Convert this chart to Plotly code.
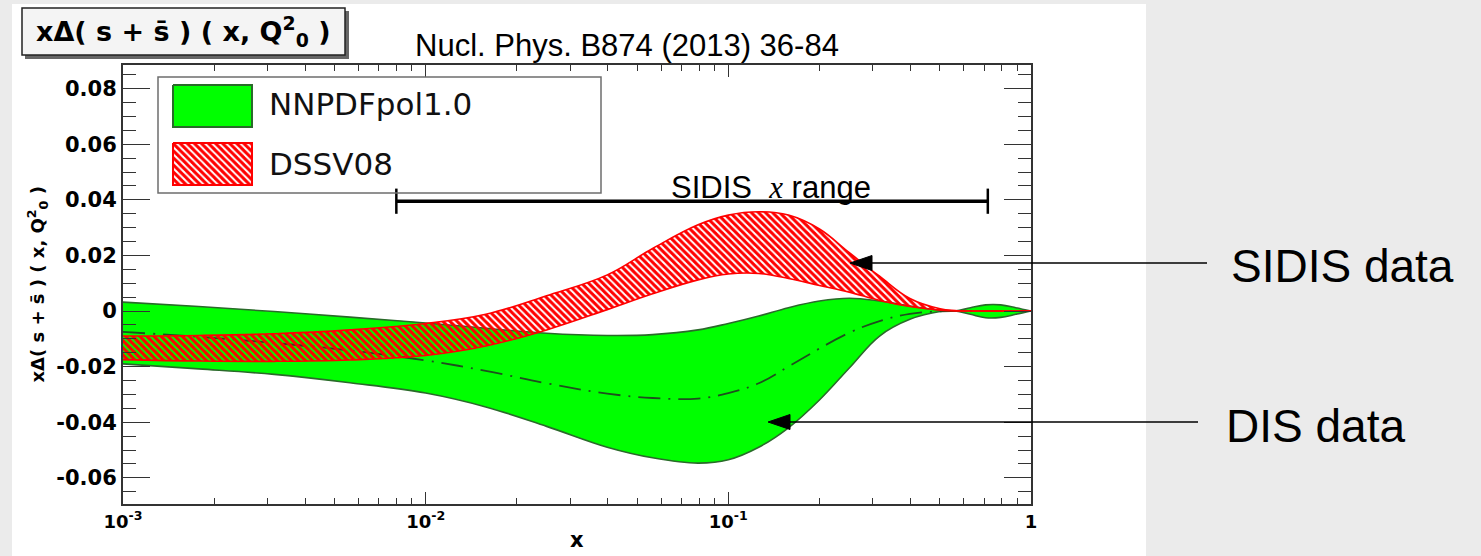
import plotly.graph_objects as go

# ---------------- data ----------------
x_vals = [0.001, 0.00178, 0.00316, 0.00562, 0.01, 0.0158, 0.0251, 0.0398, 0.0562, 0.0794,
          0.1, 0.126, 0.158, 0.2, 0.251, 0.316, 0.398, 0.501, 0.562, 0.631, 0.708, 0.794, 0.891, 1.0]

nnpdf_upper = [0.0032, 0.0016, -0.0002, -0.0022, -0.0043, -0.0062, -0.0080, -0.0088, -0.0085, -0.0068,
               -0.0045, -0.0018, 0.0012, 0.0036, 0.0046, 0.0036, 0.0018, 0.0003, 0.0, 0.0012,
               0.0022, 0.0022, 0.0012, 0.0]
nnpdf_lower = [-0.019, -0.0208, -0.0228, -0.0258, -0.0295, -0.0345, -0.0415, -0.049, -0.0528, -0.0547,
               -0.0535, -0.049, -0.042, -0.032, -0.0205, -0.009, -0.003, -0.0002, 0.0, -0.0012,
               -0.0024, -0.0023, -0.0012, 0.0]
nnpdf_central = [-0.0075, -0.0093, -0.0115, -0.0142, -0.0178, -0.0215, -0.026, -0.0297, -0.0313, -0.0315,
                 -0.0295, -0.026, -0.020, -0.0135, -0.0078, -0.0036, -0.001, -0.0001, 0.0, 0.0,
                 0.0, 0.0, 0.0, 0.0]
dssv_upper = [-0.009, -0.0088, -0.0082, -0.0068, -0.0045, -0.0012, 0.0055, 0.013, 0.0225, 0.031,
              0.0345, 0.0357, 0.0345, 0.0295, 0.021, 0.0125, 0.0045, 0.0008, 0.0002, 0.0,
              0.0, 0.0, 0.0, 0.0]
dssv_lower = [-0.0175, -0.018, -0.0181, -0.0176, -0.0160, -0.0126, -0.0068, 0.0005, 0.0062, 0.0112,
              0.0133, 0.0135, 0.0117, 0.0092, 0.0068, 0.0038, 0.0016, 0.0003, 0.0, 0.0,
              0.0, 0.0, 0.0, 0.0]

sidis_x_range = [0.008, 0.72]
sidis_level = 0.0395

x_tick_vals = [0.001, 0.01, 0.1, 1]
x_tick_text = ["10<sup>-3</sup>", "10<sup>-2</sup>", "10<sup>-1</sup>", "1"]
y_tick_vals = [-0.06, -0.04, -0.02, 0.0, 0.02, 0.04, 0.06, 0.08]
y_tick_text = ["-0.06", "-0.04", "-0.02", "0", "0.02", "0.04", "0.06", "0.08"]

series_names = ["NNPDFpol1.0", "DSSV08"]

# ---------------- layout helpers (pixel -> paper) ----------------
W, H = 1481, 556
PL, PR, PT, PB = 123, 1031, 65, 504


def px(v):
    return (v - PL) / (PR - PL)


def py(v):
    return (PB - v) / (PB - PT)


GREEN = "#00ff00"
DKGREEN = "#2a6a2a"
RED = "#ff0000"
SANS = "Liberation Sans"
WIDE = "DejaVu Sans"

spl = dict(shape="spline", smoothing=1.1)
hatch = dict(shape="\\", fgcolor=RED, bgcolor="rgba(0,0,0,0)", size=5, solidity=0.6,
             fillmode="replace")

fig = go.Figure()

# NNPDF band
fig.add_trace(go.Scatter(x=x_vals, y=nnpdf_lower, mode="lines",
                         line=dict(color=DKGREEN, width=1.6, **spl),
                         showlegend=False, hoverinfo="skip"))
fig.add_trace(go.Scatter(x=x_vals, y=nnpdf_upper, mode="lines", fill="tonexty",
                         fillcolor=GREEN, line=dict(color=DKGREEN, width=1.6, **spl),
                         name=series_names[0], showlegend=False))
fig.add_trace(go.Scatter(x=x_vals, y=nnpdf_central, mode="lines",
                         line=dict(color="#1e4f1e", width=1.8, dash="22px,8px,2px,8px", **spl),
                         showlegend=False, hoverinfo="skip"))
# DSSV band (hatched)
fig.add_trace(go.Scatter(x=x_vals, y=dssv_lower, mode="lines",
                         line=dict(color=RED, width=1.6, **spl),
                         showlegend=False, hoverinfo="skip"))
fig.add_trace(go.Scatter(x=x_vals, y=dssv_upper, mode="lines", fill="tonexty",
                         fillpattern=hatch,
                         line=dict(color=RED, width=1.6, **spl),
                         name=series_names[1], showlegend=False))

# SIDIS x range bar
fig.add_trace(go.Scatter(x=sidis_x_range, y=[sidis_level, sidis_level], mode="lines+markers",
                         line=dict(color="black", width=3.5),
                         marker=dict(symbol="line-ns", size=18, line=dict(color="black", width=2.5)),
                         showlegend=False, hoverinfo="skip"))

# legend swatches on a pixel-space overlay axis
fig.add_trace(go.Scatter(x=[173, 252, 252, 173, 173], y=[85, 85, 127, 127, 85],
                         xaxis="x2", yaxis="y2", mode="lines", fill="toself",
                         fillcolor=GREEN, line=dict(color=DKGREEN, width=2),
                         showlegend=False, hoverinfo="skip"))
fig.add_trace(go.Scatter(x=[173, 252, 252, 173, 173], y=[143, 143, 185, 185, 143],
                         xaxis="x2", yaxis="y2", mode="lines", fill="toself",
                         fillpattern=hatch,
                         line=dict(color=RED, width=2),
                         showlegend=False, hoverinfo="skip"))

shapes = []
# white panel of the pasted figure
shapes.append(dict(type="rect", xref="paper", yref="paper", layer="below",
                   x0=px(12), x1=px(1146), y0=py(556), y1=py(4),
                   fillcolor="white", line=dict(width=0)))
# legend frame
shapes.append(dict(type="rect", xref="paper", yref="paper",
                   x0=px(158), x1=px(601), y0=py(193), y1=py(77),
                   line=dict(color="#6e6e6e", width=1.5)))
# title box with shadow
shapes.append(dict(type="rect", xref="paper", yref="paper",
                   x0=px(25), x1=px(349), y0=py(59), y1=py(11),
                   fillcolor="#666666", line=dict(width=0)))
shapes.append(dict(type="rect", xref="paper", yref="paper",
                   x0=px(22), x1=px(345), y0=py(55), y1=py(8),
                   fillcolor="#f4f4f4", line=dict(color="#222222", width=1.5)))
# arrows
for (x_tail, x_tip, yy) in [(1207, 850, 263), (1198, 768, 422)]:
    shapes.append(dict(type="line", xref="paper", yref="paper",
                       x0=px(x_tail), x1=px(x_tip + 20), y0=py(yy), y1=py(yy),
                       line=dict(color="black", width=1.3)))
    shapes.append(dict(type="path", xref="paper", yref="paper",
                       path="M {a},{b} L {c},{d} L {c},{e} Z".format(
                           a=px(x_tip), b=py(yy), c=px(x_tip + 22), d=py(yy - 7.5), e=py(yy + 7.5)),
                       fillcolor="black", line=dict(color="black", width=1)))

ann = []
title_txt = "x\u0394( s + s\u0304 ) ( x, Q<sup>2</sup><sub>0</sub> )"
ann.append(dict(text="<b>" + title_txt + "</b>", xref="paper", yref="paper",
                x=px(183), y=py(31), xanchor="center", yanchor="middle", showarrow=False,
                font=dict(family=WIDE, size=27, color="black")))
ann.append(dict(text="<b>" + title_txt + "</b>", xref="paper", yref="paper",
                x=px(37), y=0.5, xanchor="center", yanchor="middle", showarrow=False,
                textangle=-90, font=dict(family=WIDE, size=18, color="black")))
ann.append(dict(text="<b>x</b>", xref="paper", yref="paper",
                x=px(577), y=py(540), xanchor="center", yanchor="middle", showarrow=False,
                font=dict(family=WIDE, size=21, color="black")))
ann.append(dict(text="Nucl. Phys. B874 (2013) 36-84", xref="paper", yref="paper",
                x=px(627), y=py(46), xanchor="center", yanchor="middle", showarrow=False,
                font=dict(family=SANS, size=31, color="black")))
ann.append(dict(text="SIDIS  <span style='font-family:Liberation Serif'><i>x</i></span> range",
                xref="paper", yref="paper", x=px(771), y=py(187), xanchor="center",
                yanchor="middle", showarrow=False, font=dict(family=SANS, size=31, color="black")))
ann.append(dict(text=series_names[0], xref="paper", yref="paper", x=px(267), y=py(104),
                xanchor="left", yanchor="middle", showarrow=False,
                font=dict(family=WIDE, size=31, color="#111111")))
ann.append(dict(text=series_names[1], xref="paper", yref="paper", x=px(267), y=py(164),
                xanchor="left", yanchor="middle", showarrow=False,
                font=dict(family=WIDE, size=31, color="#111111")))
ann.append(dict(text="SIDIS data", xref="paper", yref="paper", x=px(1229), y=py(266),
                xanchor="left", yanchor="middle", showarrow=False,
                font=dict(family=SANS, size=46, color="black")))
ann.append(dict(text="DIS data", xref="paper", yref="paper", x=px(1224), y=py(426),
                xanchor="left", yanchor="middle", showarrow=False,
                font=dict(family=SANS, size=46, color="black")))

axis_common = dict(showline=True, linecolor="#333333", linewidth=2, mirror="ticks",
                   ticks="inside", tickcolor="#333333", tickwidth=1.2, showgrid=False,
                   zeroline=False)

fig.update_layout(
    width=W, height=H,
    margin=dict(l=PL, r=W - PR, t=PT, b=H - PB),
    paper_bgcolor="#ebebeb", plot_bgcolor="white",
    font=dict(family=SANS, color="black"),
    showlegend=False,
    shapes=shapes, annotations=ann,
    xaxis=dict(type="log", range=[-3, 0], tickmode="array", tickvals=x_tick_vals,
               ticktext=x_tick_text, ticklen=12,
               tickfont=dict(family=WIDE, size=18, color="black", weight="bold"),
               minor=dict(ticks="inside", ticklen=6, tickcolor="#333333", dtick="D1"),
               **axis_common),
    yaxis=dict(range=[-0.06942, 0.08849], tickmode="array", tickvals=y_tick_vals,
               ticktext=y_tick_text, ticklen=27,
               tickfont=dict(family=WIDE, size=21, color="black", weight="bold"),
               minor=dict(ticks="inside", ticklen=13, tickcolor="#333333",
                          tickmode="linear", tick0=0, dtick=0.005),
               **axis_common),
    xaxis2=dict(overlaying="x", range=[PL, PR], visible=False, showgrid=False),
    yaxis2=dict(overlaying="y", range=[PB, PT], visible=False, showgrid=False),
)

fig.write_html("out.html")
